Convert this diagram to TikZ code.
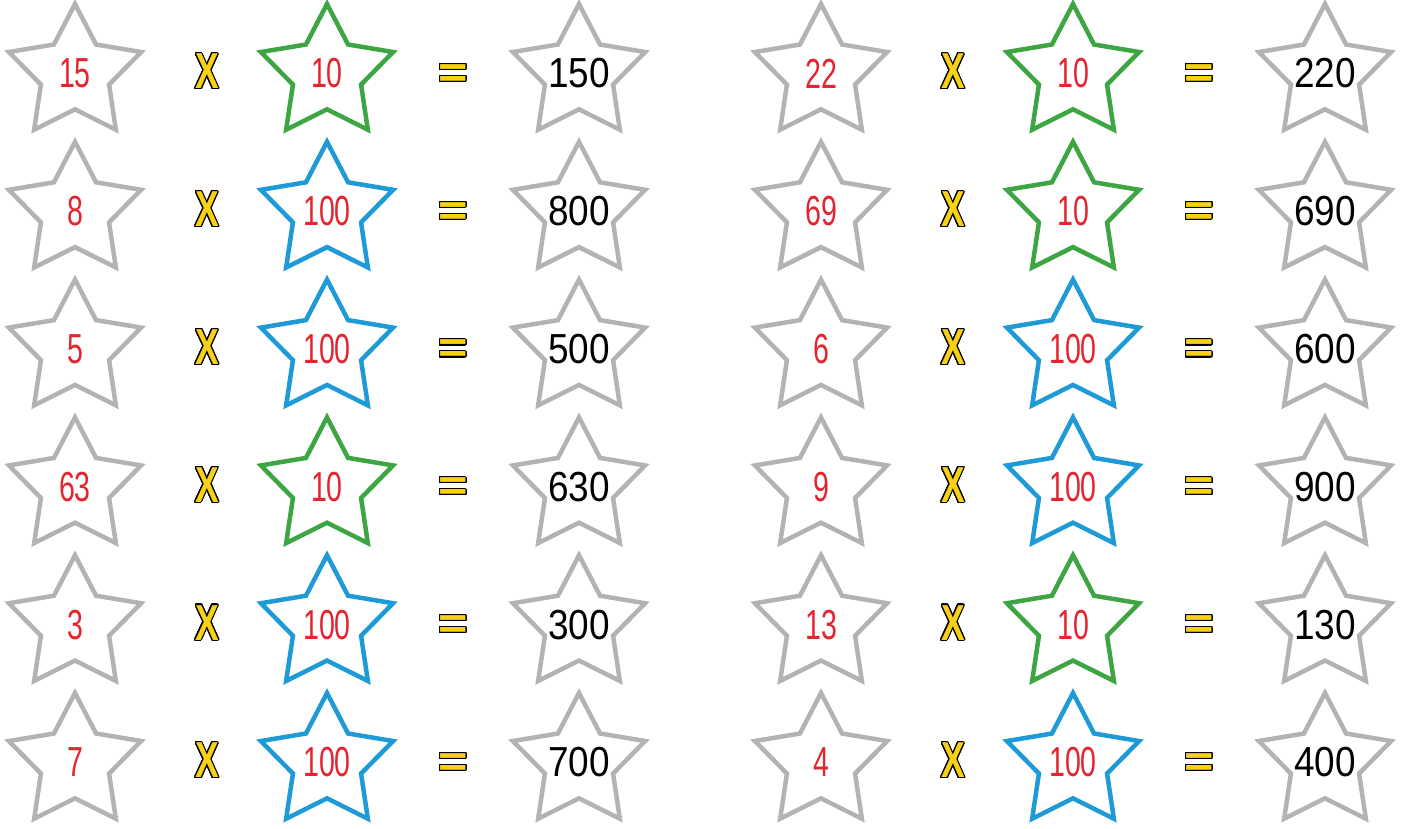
\documentclass[tikz,border=0pt]{standalone}
\usepackage{fontspec}
\usepackage{contour}
\usetikzlibrary{shapes.geometric}
\newfontfamily\givenfont[FakeStretch=0.68]{Liberation Sans}
\newfontfamily\resultfont[FakeStretch=0.88]{Liberation Sans}
\newfontfamily\signfont[FakeStretch=0.85]{Liberation Sans}
\definecolor{stargray}{HTML}{B3B3B3}
\definecolor{stargreen}{HTML}{3DA542}
\definecolor{starblue}{HTML}{1E9BD7}
\definecolor{numred}{HTML}{E4252F}
\definecolor{signyellow}{HTML}{F8D116}
\contourlength{1.1pt}
\contournumber{24}
\begin{document}
\begin{tikzpicture}[x=1pt, y=-1pt,
    starbox/.style={shape=star, star points=5, star point ratio=1.94,
                 minimum size=139pt, inner sep=0pt, line width=4.5pt,
                 draw=stargray, fill=white},
    tenstar/.style={starbox, draw=stargreen},
    hunstar/.style={starbox, draw=starblue},
    given/.style={font=\fontsize{42}{42}\selectfont\givenfont, text=numred, inner sep=0pt},
    result/.style={font=\fontsize{42}{42}\selectfont\resultfont, text=black, inner sep=0pt},
    sign/.style={font=\fontsize{44}{44}\selectfont\signfont\bfseries, text=signyellow, inner sep=0pt},
]
    \useasboundingbox (0,0) rectangle (1406,829);

    % Rows: row / column offset / number / factor / product
    \foreach \r/\x/\a/\b/\c in {0/0/15/10/150, 1/0/8/100/800, 2/0/5/100/500,
        3/0/63/10/630, 4/0/3/100/300, 5/0/7/100/700,
        0/746/22/10/220, 1/746/69/10/690, 2/746/6/100/600,
        3/746/9/100/900, 4/746/13/10/130, 5/746/4/100/400} {
        \edef\kind{\ifnum\b=10 tenstar\else hunstar\fi}
        \node[starbox, label={[given]center:\a}] (given-\x-\r) at (\x+75, 73.5+137.8*\r) {};
        \node[sign] (times-\x-\r) at (\x+207, 72+137.8*\r) {\contour{black}{\scalebox{0.95}[1.15]{X}}};
        \node[\kind, label={[given]center:\b}] (factor-\x-\r) at (\x+327, 73.5+137.8*\r) {};
        \node[sign] (equals-\x-\r) at (\x+453, 76.5+137.8*\r) {\contour{black}{\scalebox{1.35}[1]{=}}};
        \node[starbox, label={[result]center:\c}] (result-\x-\r) at (\x+579, 73.5+137.8*\r) {};
    }
\end{tikzpicture}
\end{document}
